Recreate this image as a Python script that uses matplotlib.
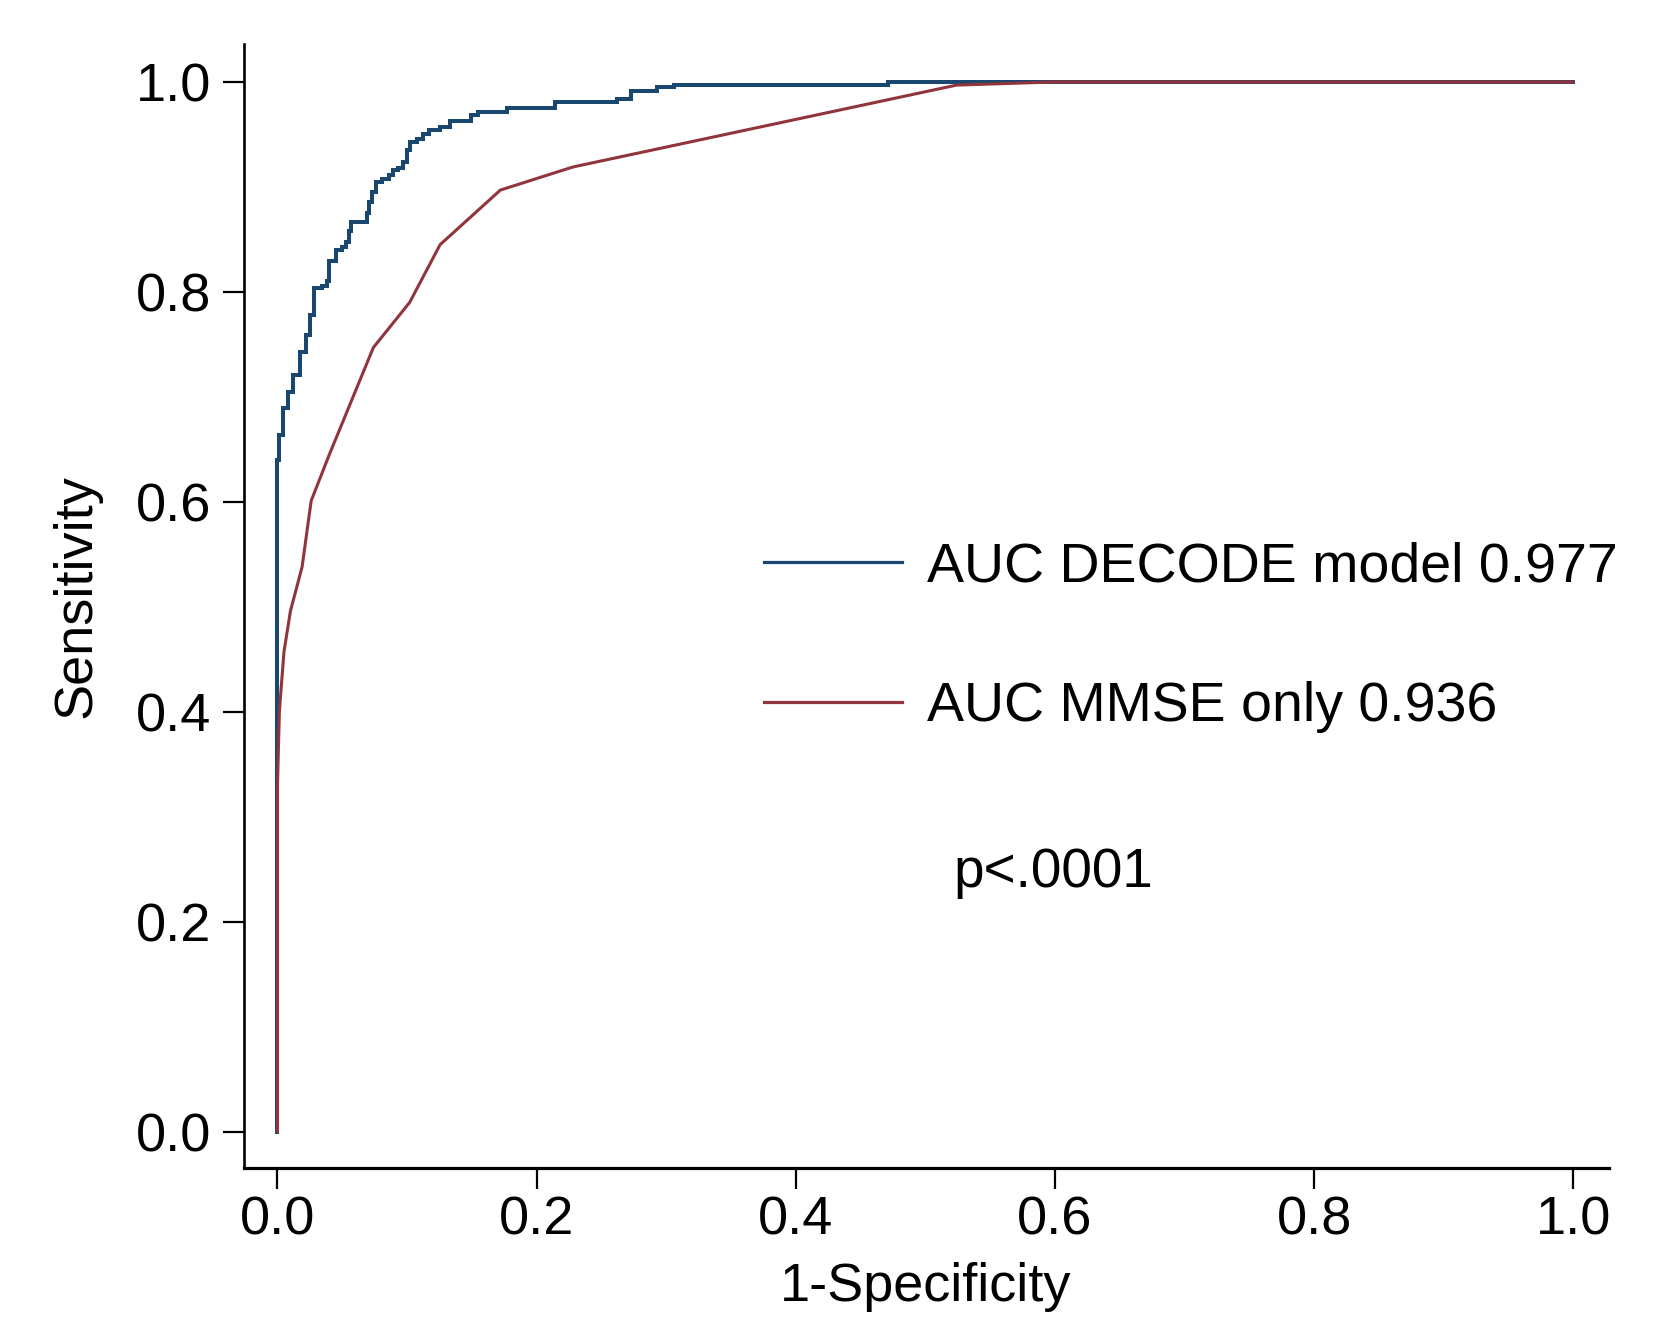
import matplotlib
matplotlib.use("Agg")
import matplotlib.pyplot as plt

plt.rcParams['font.family'] = ['Liberation Sans', 'DejaVu Sans']

# ---- data ----
# DECODE model ROC: staircase vertices (step-post: y holds until the next x)
decode_fpr = [0.0, 0.0, 0.0015, 0.004, 0.008, 0.012, 0.017, 0.022, 0.025, 0.028,
              0.034, 0.038, 0.040, 0.045, 0.050, 0.053, 0.055, 0.057, 0.068, 0.069,
              0.071, 0.073, 0.076, 0.081, 0.086, 0.089, 0.093, 0.097, 0.100, 0.102,
              0.108, 0.112, 0.117, 0.1255, 0.133, 0.149, 0.155, 0.177, 0.214, 0.262,
              0.273, 0.293, 0.306, 0.4715, 1.0]
decode_tpr = [0.0, 0.640, 0.664, 0.689, 0.705, 0.721, 0.743, 0.759, 0.778, 0.804,
              0.806, 0.810, 0.829, 0.840, 0.843, 0.848, 0.858, 0.867, 0.867, 0.875,
              0.886, 0.895, 0.905, 0.908, 0.911, 0.916, 0.918, 0.924, 0.935, 0.943,
              0.946, 0.950, 0.954, 0.957, 0.963, 0.9685, 0.971, 0.975, 0.981, 0.984,
              0.991, 0.995, 0.9975, 1.0, 1.0]

# MMSE-only ROC: vertices joined by straight segments
mmse_fpr = [0.0, 0.0, 0.0015, 0.005, 0.010, 0.019, 0.026, 0.040, 0.074, 0.102,
            0.1255, 0.172, 0.228, 0.524, 0.60, 1.0]
mmse_tpr = [0.0, 0.33, 0.401, 0.457, 0.496, 0.538, 0.601, 0.645, 0.747, 0.790,
            0.845, 0.897, 0.919, 0.997, 1.0, 1.0]

series_labels = ["AUC DECODE model 0.977", "AUC MMSE only 0.936"]
p_text = "p<.0001"
x_ticks = [0.0, 0.2, 0.4, 0.6, 0.8, 1.0]
y_ticks = [0.0, 0.2, 0.4, 0.6, 0.8, 1.0]
tick_labels = ["0.0", "0.2", "0.4", "0.6", "0.8", "1.0"]

BLUE = "#1a476f"
RED = "#90353b"

fig = plt.figure(figsize=(16.6, 13.24), dpi=100)
ax = fig.add_axes([0.1467, 0.1178, 0.8226, 0.849])

ax.plot(decode_fpr, decode_tpr, color=BLUE, lw=2.9, label=series_labels[0],
        drawstyle='steps-post', solid_joinstyle='miter')
ax.plot(mmse_fpr, mmse_tpr, color=RED, lw=2.2, label=series_labels[1])

ax.set_xlim(-0.0262, 1.0276)
ax.set_ylim(-0.0346, 1.0362)

ax.set_xticks(x_ticks)
ax.set_xticklabels(tick_labels)
ax.set_yticks(y_ticks)
ax.set_yticklabels(tick_labels)

for s in ['top', 'right']:
    ax.spines[s].set_visible(False)
ax.spines['left'].set_linewidth(1.9)
ax.spines['bottom'].set_linewidth(2.3)

ax.tick_params(axis='both', which='major', length=15, width=1.6, labelsize=39,
               color='black', labelcolor='black')
ax.tick_params(axis='x', pad=5)
ax.tick_params(axis='y', pad=8)

ax.set_xlabel("1-Specificity", fontsize=39)
ax.set_ylabel("Sensitivity", fontsize=39)
ax.xaxis.set_label_coords(0.4998, -0.0836)
ax.yaxis.set_label_coords(-0.104, 0.509)

leg = ax.legend(loc='center left', bbox_to_anchor=(0.381, 0.472), frameon=False,
                fontsize=40, handlelength=2.48, handletextpad=0.46,
                labelspacing=1.58, borderpad=0, borderaxespad=0)
for h in leg.get_lines():
    h.set_linewidth(2.3)

ax.text(0.5196, 0.250, p_text, transform=ax.transAxes, fontsize=39.5,
        ha='left', va='baseline')

fig.savefig("out.png", dpi=100, facecolor='white')
